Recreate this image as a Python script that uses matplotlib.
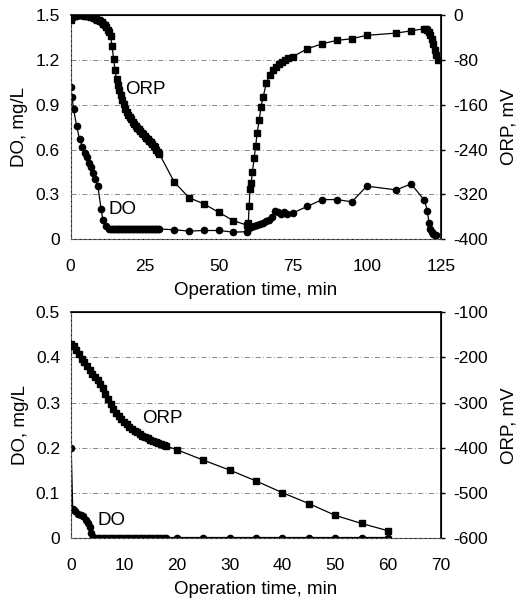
import numpy as np
import matplotlib
matplotlib.use("Agg")
import matplotlib.pyplot as plt

plt.rcParams['font.family'] = ['Liberation Sans', 'DejaVu Sans']
plt.rcParams['axes.unicode_minus'] = False

# ---------- top panel: 125 min cycle ----------
top_do_t = [0, 0.5, 1, 2, 3, 4, 4.7, 5.5, 6.2, 6.9, 7.5, 8.4, 9.2, 10.3, 10.9, 12,
            13, 13.5, 14, 14.5, 15, 15.5, 16, 16.5, 17, 17.5, 18, 18.5, 19, 19.5, 20,
            20.5, 21, 21.5, 22, 22.5, 23, 23.5, 24, 24.5, 25, 25.5, 26, 26.5, 27, 27.5,
            28, 28.5, 29, 29.5, 30,
            35, 40, 45, 50, 55, 59.5, 60, 60.5, 61, 62, 63, 64, 65, 66, 67, 68, 69, 70,
            71, 72, 73, 75, 80, 85, 90, 95, 100, 110, 115, 119.5, 120.5, 121, 121.5,
            122, 122.5, 123, 123.5]
top_do = [1.02, 0.95, 0.87, 0.76, 0.67, 0.62, 0.58, 0.55, 0.51, 0.48, 0.44, 0.40, 0.355,
          0.20, 0.13, 0.085,
          0.07, 0.07, 0.068, 0.068, 0.068, 0.068, 0.068, 0.068, 0.068, 0.068, 0.068,
          0.068, 0.068, 0.068, 0.068, 0.068, 0.068, 0.068, 0.068, 0.068, 0.068, 0.068,
          0.068, 0.068, 0.068, 0.068, 0.068, 0.068, 0.068, 0.068, 0.068, 0.068, 0.068,
          0.068, 0.068,
          0.063, 0.054, 0.058, 0.058, 0.047, 0.05, 0.07, 0.09, 0.08, 0.09, 0.095, 0.1,
          0.11, 0.12, 0.13, 0.15, 0.19, 0.18, 0.17, 0.185, 0.17, 0.175, 0.22, 0.265,
          0.265, 0.25, 0.355, 0.33, 0.37, 0.26, 0.19, 0.11, 0.07, 0.045, 0.035, 0.03, 0.03]

top_orp_t = [0, 0.5, 1, 1.5, 2, 2.5, 3, 3.5, 4, 4.5, 5, 5.5, 6, 6.5, 7, 7.5, 8, 8.5, 9,
             9.5, 10, 10.5, 11, 11.5, 12, 12.5, 13, 13.5, 14, 14.5, 15, 15.5, 16, 16.5,
             17, 17.5, 18, 18.5, 19, 19.5, 20, 20.5, 21, 21.5, 22, 22.5, 23, 23.5, 24,
             24.5, 25, 25.5, 26, 26.5, 27, 27.5, 28, 28.5, 29, 29.5, 30,
             35, 40, 45, 50, 55, 59.5, 60, 60.3, 60.6, 61, 61.4, 62, 62.5, 63, 63.7,
             64.3, 65, 66.1, 67.2, 68.4, 69.5, 70.5, 71.5, 72.5, 73.5, 75, 80, 85, 90,
             95, 100, 110, 115, 119.5, 120, 120.5, 121, 121.5, 122, 122.5, 123, 123.5,
             124]
top_orp = [-8, -4, -2, -1, 0, 0, 0, 0, 0, 0, -1, -1, -2, -2, -3, -4, -5, -6, -8, -9,
           -11, -13, -15, -18, -21, -26, -30, -38, -55, -78, -98, -114, -125, -134,
           -143, -151, -159, -167, -173, -178, -182, -186, -190, -194, -198, -201, -204,
           -207, -210, -213, -216, -219, -221, -224, -227, -230, -233, -236, -240, -244,
           -248,
           -298, -326, -337, -352, -367, -375, -372, -340, -310, -299, -280, -255, -234,
           -210, -187, -164, -146, -122, -107, -98, -92, -88, -84, -80, -77, -74, -60,
           -51, -45, -42, -36, -32, -28, -24, -25, -27, -30, -35, -42, -52, -62, -71,
           -80]

# ---------- bottom panel: 60 min cycle ----------
bot_do_t = [0, 0.3, 0.8, 1.3, 1.8, 2.3, 2.8, 3.2, 3.5, 3.8, 4.1, 4.5, 5, 5.5, 6, 6.5, 7,
            7.5, 8, 8.5, 9, 9.5, 10, 10.5, 11, 11.5, 12, 12.5, 13, 13.5, 14, 14.5, 15,
            15.5, 16, 16.5, 17, 17.5, 18, 20, 25, 30, 35, 40, 45, 50, 55, 60]
bot_do = [0.2, 0.065, 0.06, 0.055, 0.052, 0.05, 0.04, 0.035, 0.025, 0.012, 0.003, 0.002,
          0.002, 0.002, 0.002, 0.002, 0.002, 0.002, 0.002, 0.002, 0.002, 0.002, 0.002,
          0.002, 0.002, 0.002, 0.002, 0.002, 0.002, 0.002, 0.002, 0.002, 0.002, 0.002,
          0.002, 0.002, 0.002, 0.002, 0.002, 0.002, 0.002, 0.002, 0.002, 0.002, 0.002,
          0.002, 0.002, 0.002]

bot_orp_t = [0, 0.5, 1, 1.5, 2, 2.5, 3, 3.5, 4, 4.5, 5, 5.5, 6, 6.5, 7, 7.5, 8, 8.5, 9,
             9.5, 10, 10.5, 11, 11.5, 12, 12.5, 13, 13.5, 14, 14.5, 15, 15.5, 16, 16.5,
             17, 17.5, 18, 20, 25, 30, 35, 40, 45, 50, 55, 60]
bot_orp = [-170, -176, -183, -193, -203, -211, -220, -228, -236, -243, -250, -258, -268,
           -280, -292, -304, -315, -323, -330, -337, -343, -348, -353, -358, -362, -366,
           -370, -373, -376, -379, -382, -385, -387, -390, -392, -394, -396, -404, -427,
           -449, -473, -499, -523, -549, -567, -583]

TICK_FS = 12.5
LABEL_FS = 13.5


def style_axes(ax, ax2):
    # dashed light grid at left ticks, light dashed left/bottom frame
    ax.yaxis.grid(True, linestyle=(0, (6, 3, 1, 3)), color='0.45', linewidth=0.6)
    ax.set_axisbelow(True)
    for s in ['left', 'bottom']:
        ax2.spines[s].set_linestyle((0, (3, 2)))
        ax2.spines[s].set_color('0.4')
        ax2.spines[s].set_linewidth(0.7)
    for s in ['top', 'right']:
        ax2.spines[s].set_linewidth(1.2)
    ax.tick_params(axis='both', length=0, labelsize=TICK_FS)
    ax.tick_params(axis='x', pad=14)
    ax.tick_params(axis='y', pad=8)
    ax2.tick_params(axis='y', length=3, width=1, labelsize=TICK_FS, pad=6)
    ax.set_xlabel('Operation time, min', fontsize=LABEL_FS, labelpad=6)
    ax.set_ylabel('DO, mg/L', fontsize=LABEL_FS, labelpad=5)
    ax2.set_ylabel('ORP, mV', fontsize=LABEL_FS, labelpad=9)


fig = plt.figure(figsize=(5.31, 6.07), dpi=100)

# top
ax1 = fig.add_axes([0.133, 0.606, 0.697, 0.369])
ax1b = ax1.twinx()
ax1.plot(top_do_t, top_do, '-o', color='black', lw=0.9, ms=4.5, zorder=3)
ax1b.plot(top_orp_t, top_orp, '-s', color='black', lw=0.9, ms=5, zorder=3)
ax1.set_xlim(0, 125)
ax1.set_ylim(0, 1.5)
ax1b.set_ylim(-400, 0)
ax1.set_xticks(np.arange(0, 126, 25))
ax1.set_yticks([0, 0.3, 0.6, 0.9, 1.2, 1.5])
ax1.set_yticklabels(['0', '0.3', '0.6', '0.9', '1.2', '1.5'])
ax1b.set_yticks([0, -80, -160, -240, -320, -400])
ax1.text(18.5, 1.0, 'ORP', fontsize=LABEL_FS, va='center', ha='left')
ax1.text(12.8, 0.2, 'DO', fontsize=LABEL_FS, va='center', ha='left')
style_axes(ax1, ax1b)

# bottom
ax2 = fig.add_axes([0.134, 0.113, 0.696, 0.373])
ax2b = ax2.twinx()
ax2.plot(bot_do_t, bot_do, '-o', color='black', lw=0.9, ms=4.5, zorder=3)
ax2b.plot(bot_orp_t, bot_orp, '-s', color='black', lw=0.9, ms=5, zorder=3)
ax2.set_xlim(0, 70)
ax2.set_ylim(0, 0.5)
ax2b.set_ylim(-600, -100)
ax2.set_xticks(np.arange(0, 71, 10))
ax2.set_yticks([0, 0.1, 0.2, 0.3, 0.4, 0.5])
ax2.set_yticklabels(['0', '0.1', '0.2', '0.3', '0.4', '0.5'])
ax2b.set_yticks([-100, -200, -300, -400, -500, -600])
ax2.text(13.5, 0.265, 'ORP', fontsize=LABEL_FS, va='center', ha='left')
ax2.text(5, 0.04, 'DO', fontsize=LABEL_FS, va='center', ha='left')
style_axes(ax2, ax2b)

fig.savefig('out.png', dpi=100)
